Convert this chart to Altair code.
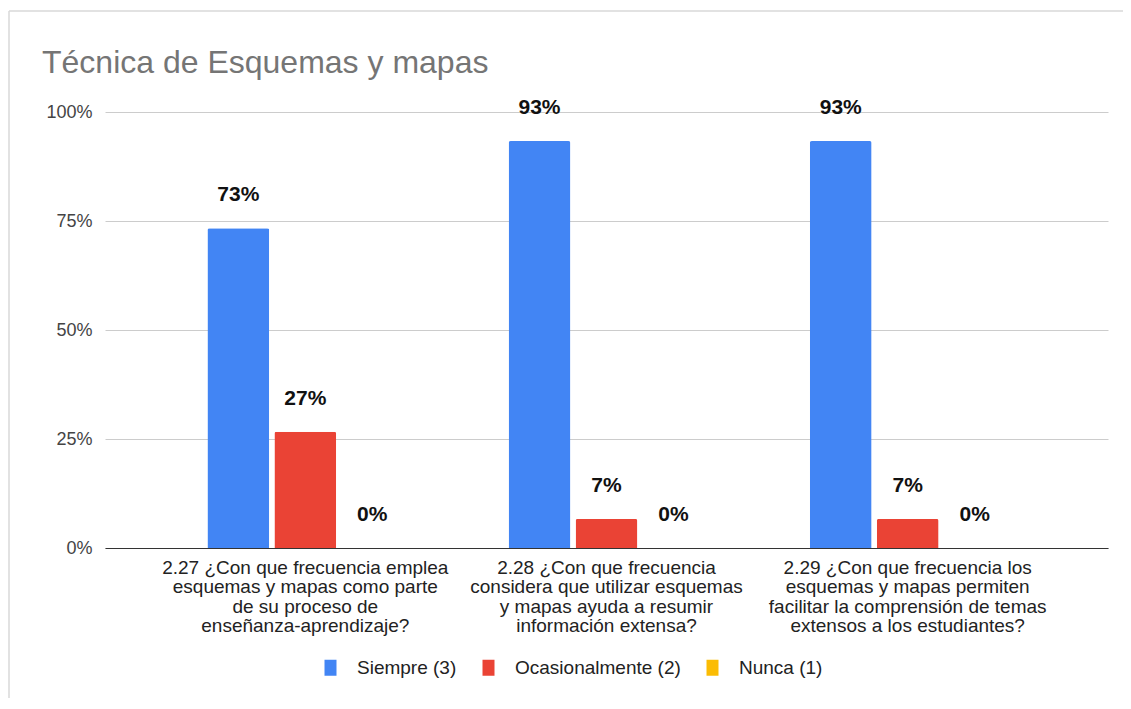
import altair as alt
import pandas as pd

title_text = "Técnica de Esquemas y mapas"
categories = [
    "2.27 ¿Con que frecuencia emplea|esquemas y mapas como parte|de su proceso de|enseñanza-aprendizaje?",
    "2.28 ¿Con que frecuencia|considera que utilizar esquemas|y mapas ayuda a resumir|información extensa?",
    "2.29 ¿Con que frecuencia los|esquemas y mapas permiten|facilitar la comprensión de temas|extensos a los estudiantes?",
]
series = ["Siempre (3)", "Ocasionalmente (2)", "Nunca (1)"]
siempre = [0.7333, 0.9333, 0.9333]
ocasional = [0.2667, 0.0667, 0.0667]
nunca = [0.0, 0.0, 0.0]
colors = ["#4285F4", "#EA4335", "#FBBC04"]

rows = []
for i, c in enumerate(categories):
    for s, vals in zip(series, [siempre, ocasional, nunca]):
        rows.append({"cat": c, "serie": s, "valor": vals[i]})
df = pd.DataFrame(rows)

FONT = "Liberation Sans"

x = alt.X("cat:N", sort=categories, title=None,
          scale=alt.Scale(paddingInner=0.35, paddingOuter=0.34),
          axis=alt.Axis(labelAngle=0, labelExpr="split(datum.label, '|')",
                        labelFontSize=19, labelColor="#222222", labelLineHeight=19.5,
                        labelPadding=10, ticks=False, domainColor="#333333",
                        labelFont=FONT, labelLimit=400, grid=False))
xo = alt.XOffset("serie:N", sort=series, scale=alt.Scale(paddingInner=0.077))
y = alt.Y("valor:Q", title=None,
          scale=alt.Scale(domain=[0, 1]),
          axis=alt.Axis(format=".0%", values=[0, 0.25, 0.5, 0.75, 1.0],
                        labelFontSize=18, labelColor="#444444", labelPadding=13,
                        ticks=False, domain=False, gridColor="#cccccc", labelFont=FONT))
color = alt.Color("serie:N", sort=series,
                  scale=alt.Scale(domain=series, range=colors),
                  legend=alt.Legend(title=None, orient="none", direction="horizontal",
                                    legendX=216, legendY=546, labelLimit=300,
                                    labelFontSize=19, labelColor="#222222", labelFont=FONT,
                                    symbolType="M-0.75,-1L0.75,-1L0.75,1L-0.75,1Z",
                                    symbolSize=256, symbolStrokeWidth=0, symbolOpacity=1,
                                    labelOffset=17, columnPadding=22))

base = alt.Chart(df).encode(x=x, xOffset=xo)

bars = base.mark_bar(cornerRadiusTopLeft=2, cornerRadiusTopRight=2).encode(y=y, color=color)
labels = base.mark_text(fontWeight="bold", fontSize=21, font=FONT, color="#111111",
                        baseline="alphabetic", dy=-27).encode(
    y=alt.Y("valor:Q"), text=alt.Text("valor:Q", format=".0%"))

one = pd.DataFrame({"t": [title_text]})
# light frame around the chart (left and top edges visible in the reference)
frame_left = alt.Chart(one).mark_rule(color="#d9d9d9", strokeWidth=1.5).encode(
    x=alt.value(-96), y=alt.value(-101), y2=alt.value(600))
frame_top = alt.Chart(one).mark_rule(color="#d9d9d9", strokeWidth=1.5).encode(
    x=alt.value(-96), x2=alt.value(1030), y=alt.value(-101))
title = alt.Chart(one).mark_text(align="left", baseline="alphabetic", fontSize=32,
                                 font=FONT, color="#757575").encode(
    x=alt.value(-63), y=alt.value(-39), text="t:N")

chart = (frame_left + frame_top + title + bars + labels).properties(
    width=1003, height=436,
    autosize=alt.AutoSizeParams(type="none"),
    padding={"left": 97, "top": 104, "right": 15, "bottom": 150},
    background="white",
).configure_view(stroke=None)

chart.save("out.html", embed_options={"renderer": "svg", "actions": False})
